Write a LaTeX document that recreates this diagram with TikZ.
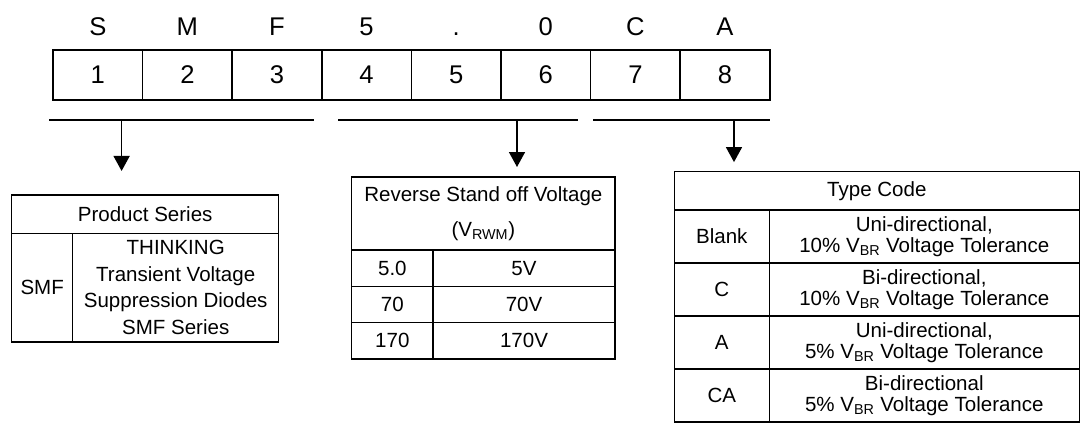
\documentclass[tikz,border=0pt]{standalone}
\usepackage{fontspec}
\setmainfont{Liberation Sans}
\usetikzlibrary{positioning, arrows.meta}
\newcommand{\vbr}{V\textsubscript{BR}}
\tikzset{
  digitcell/.style={
    draw, line width=1.1pt,
    inner sep=0pt, outer sep=0pt,
    minimum width=2.24cm,
    minimum height=1.25cm,
    font=\fontsize{18.2pt}{20pt}\selectfont
  },
  codechar/.style={
    anchor=base, inner sep=0pt,
    font=\fontsize{18.2pt}{20pt}\selectfont
  },
  tabcell/.style={
    draw, line width=1.1pt,
    inner sep=0pt, outer sep=0pt,
    align=center,
    font=\fontsize{14.6pt}{19pt}\selectfont
  },
  pskey/.style={tabcell, minimum width=1.525cm, minimum height=2.71cm},
  psval/.style={tabcell, minimum width=5.15cm, minimum height=2.71cm},
  rvkey/.style={tabcell, minimum width=2.0325cm, minimum height=0.9075cm},
  rvval/.style={tabcell, minimum width=4.55cm, minimum height=0.9075cm},
  tckey/.style={tabcell, minimum width=2.375cm, minimum height=1.325cm,
    font=\fontsize{14.6pt}{15.3pt}\selectfont},
  tcval/.style={tabcell, minimum width=7.75cm, minimum height=1.325cm,
    font=\fontsize{14.6pt}{15.3pt}\selectfont},
  bracket/.style={line width=0.9pt},
  pointer/.style={
    -{Triangle[length=0.375cm,width=0.4cm]},
    line width=1.1pt
  }
}

\begin{document}
\begin{tikzpicture}
  \useasboundingbox (0,0) rectangle (27.1,-10.7);

  % part number positions
  \node[digitcell] (d1) at (2.445,-1.875) {1};
  \node[digitcell, right=0pt of d1] (d2) {2};
  \node[digitcell, right=0pt of d2] (d3) {3};
  \node[digitcell, right=0pt of d3] (d4) {4};
  \node[digitcell, right=0pt of d4] (d5) {5};
  \node[digitcell, right=0pt of d5] (d6) {6};
  \node[digitcell, right=0pt of d6] (d7) {7};
  \node[digitcell, right=0pt of d7] (d8) {8};

  \node[codechar] (cS) at ([yshift=0.37cm]d1.north) {S};
  \node[codechar] (cM) at ([yshift=0.37cm]d2.north) {M};
  \node[codechar] (cF) at ([yshift=0.37cm]d3.north) {F};
  \node[codechar] (c5) at ([yshift=0.37cm]d4.north) {5};
  \node[codechar] (cDot) at ([yshift=0.37cm]d5.north) {.};
  \node[codechar] (c0) at ([yshift=0.37cm]d6.north) {0};
  \node[codechar] (cC) at ([yshift=0.37cm]d7.north) {C};
  \node[codechar] (cA) at ([yshift=0.37cm]d8.north) {A};

  % product series
  \node[tabcell, minimum width=6.675cm, minimum height=0.96cm] (psHead) at (3.63,-5.354) {Product Series};
  \node[pskey, anchor=north west] (psSMF) at (psHead.south west) {SMF};
  \node[psval, right=0pt of psSMF] (psName) {THINKING\\Transient Voltage\\Suppression Diodes\\SMF Series};

  % reverse stand off voltage
  \node[tabcell, minimum width=6.5825cm, minimum height=1.825cm] (rvHead) at (12.084,-5.3375) {Reverse Stand off Voltage\\[6pt](V\textsubscript{RWM})};
  \node[rvkey, anchor=north west] (rv5) at (rvHead.south west) {5.0};
  \node[rvval, right=0pt of rv5] (rv5v) {5V};
  \node[rvkey, below=0pt of rv5] (rv70) {70};
  \node[rvval, right=0pt of rv70] (rv70v) {70V};
  \node[rvkey, below=0pt of rv70] (rv170) {170};
  \node[rvval, right=0pt of rv170] (rv170v) {170V};

  % type code
  \node[tabcell, minimum width=10.125cm, minimum height=0.9575cm] (tcHead) at (21.92,-4.771) {Type Code};
  \node[tckey, anchor=north west] (tcBlank) at (tcHead.south west) {Blank};
  \node[tcval, right=0pt of tcBlank] (tcBlankD) {Uni-directional,\\10\% \vbr{} Voltage Tolerance};
  \node[tckey, below=0pt of tcBlank] (tcC) {C};
  \node[tcval, right=0pt of tcC] (tcCD) {Bi-directional,\\10\% \vbr{} Voltage Tolerance};
  \node[tckey, below=0pt of tcC] (tcA) {A};
  \node[tcval, right=0pt of tcA] (tcAD) {Uni-directional,\\5\% \vbr{} Voltage Tolerance};
  \node[tckey, below=0pt of tcA] (tcCA) {CA};
  \node[tcval, right=0pt of tcCA] (tcCAD) {Bi-directional\\5\% \vbr{} Voltage Tolerance};

  % brackets and pointers
  \coordinate (b1s) at (1.225,-3);
  \coordinate (b1e) at (7.85,-3);
  \coordinate (b2s) at (8.45,-3);
  \coordinate (b2e) at (14.45,-3);
  \coordinate (b3s) at (14.825,-3);
  \coordinate (b3e) at (19.25,-3);
  \coordinate (p1) at (3.04,-3);
  \coordinate (p2) at (12.925,-3);
  \coordinate (p3) at (18.35,-3);

  \draw[bracket] (b1s) -- (b1e);
  \draw[bracket] (b2s) -- (b2e);
  \draw[bracket] (b3s) -- (b3e);

  \draw[pointer, shorten >=0.6cm] (p1) -- (p1 |- psHead.north);
  \draw[pointer, shorten >=0.25cm] (p2) -- (p2 |- rvHead.north);
  \draw[pointer, shorten >=0.24cm] (p3) -- (p3 |- tcHead.north);
\end{tikzpicture}
\end{document}
